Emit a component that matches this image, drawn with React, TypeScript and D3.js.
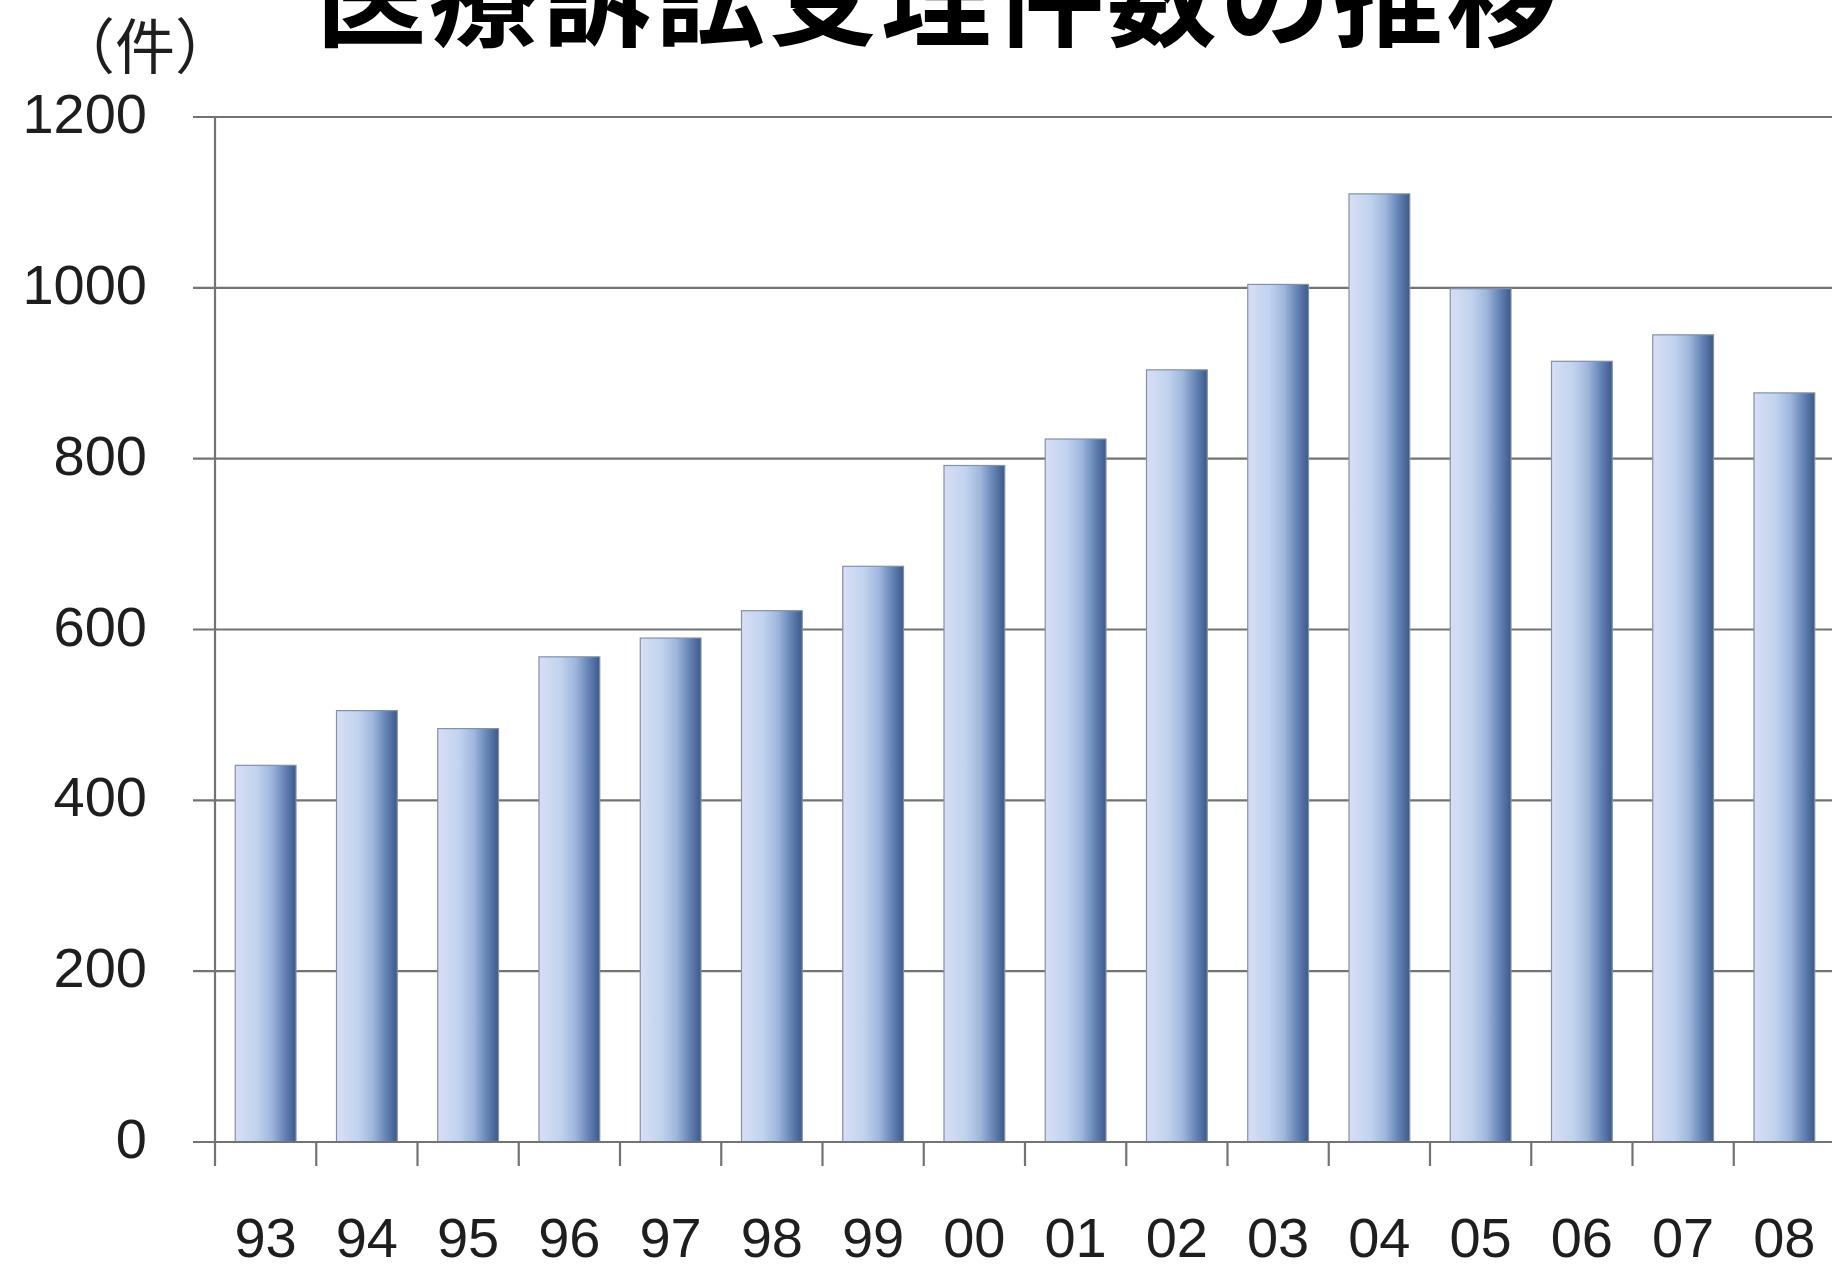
import React from "react";
import * as d3 from "d3";

const years = ["93", "94", "95", "96", "97", "98", "99", "00", "01", "02", "03", "04", "05", "06", "07", "08"];
const cases = [441, 505, 484, 568, 590, 622, 674, 792, 823, 904, 1004, 1110, 999, 914, 945, 877];
const yTicks = [0, 200, 400, 600, 800, 1000, 1200];
const title = "医療訴訟受理件数の推移";
const unitLabel = "（件）";

const W = 1832;
const H = 1272;
const left = 215;
const right = 1835;
const top = 117;
const bottom = 1142;

export default function App() {
  const x = d3.scaleBand<string>().domain(years).range([left, right]).paddingInner(0.4).paddingOuter(0.2);
  const band = d3.scaleBand<string>().domain(years).range([left, right]).padding(0);
  const y = d3.scaleLinear().domain([0, 1200]).range([bottom, top]);
  const numFont = "'Liberation Sans', Arial, sans-serif";
  const cjkFont = "'Noto Sans CJK JP', 'Noto Sans CJK SC', sans-serif";

  return (
    <svg width={W} height={H} style={{ position: "absolute", left: 0, top: 0, background: "#fff" }}>
      <defs>
        <linearGradient id="barGrad" x1="0" x2="1" y1="0" y2="0">
          <stop offset="0%" stopColor="#d8def5" />
          <stop offset="35%" stopColor="#c1d3ef" />
          <stop offset="60%" stopColor="#9fb6dc" />
          <stop offset="80%" stopColor="#6886b7" />
          <stop offset="100%" stopColor="#3b5a8a" />
        </linearGradient>
      </defs>
      <rect x={0} y={0} width={W} height={H} fill="#fff" />

      {/* gridlines */}
      {yTicks.map((t) => (
        <line key={"g" + t} x1={193} x2={W} y1={y(t)} y2={y(t)} stroke="#737373" strokeWidth={2.2} />
      ))}

      {/* bars */}
      {years.map((yr, i) => (
        <rect
          key={yr}
          x={x(yr)!}
          y={y(cases[i])}
          width={x.bandwidth()}
          height={bottom - y(cases[i])}
          fill="url(#barGrad)"
          stroke="#8290a8"
          strokeWidth={1.2}
        />
      ))}

      {/* y axis */}
      <line x1={left} x2={left} y1={top} y2={1166} stroke="#737373" strokeWidth={2.2} />
      {/* x axis ticks */}
      {years.map((yr) => (
        <line key={"xt" + yr} x1={band(yr)! + band.bandwidth()} x2={band(yr)! + band.bandwidth()} y1={bottom} y2={1166} stroke="#737373" strokeWidth={2.2} />
      ))}
      <line x1={193} x2={W} y1={bottom} y2={bottom} stroke="#737373" strokeWidth={2.2} />

      {/* y labels */}
      {yTicks.map((t) => (
        <text key={"yl" + t} x={147} y={y(t) + 16} textAnchor="end" fontFamily={numFont} fontSize={56} fill="#1e1e1e">
          {t}
        </text>
      ))}

      {/* x labels */}
      {years.map((yr) => (
        <text key={"xl" + yr} x={band(yr)! + band.bandwidth() / 2} y={1257} textAnchor="middle" fontFamily={numFont} fontSize={56} fill="#1e1e1e">
          {yr}
        </text>
      ))}

      {/* unit */}
      <text x={145} y={69} textAnchor="middle" fontFamily={cjkFont} fontSize={60} fill="#1e1e1e">
        {unitLabel}
      </text>

      {/* title (clipped at top, as in the reference) */}
      <text x={316} y={38} fontFamily={cjkFont} fontWeight={700} fontSize={110} letterSpacing={3} fill="#000">
        {title}
      </text>
    </svg>
  );
}
